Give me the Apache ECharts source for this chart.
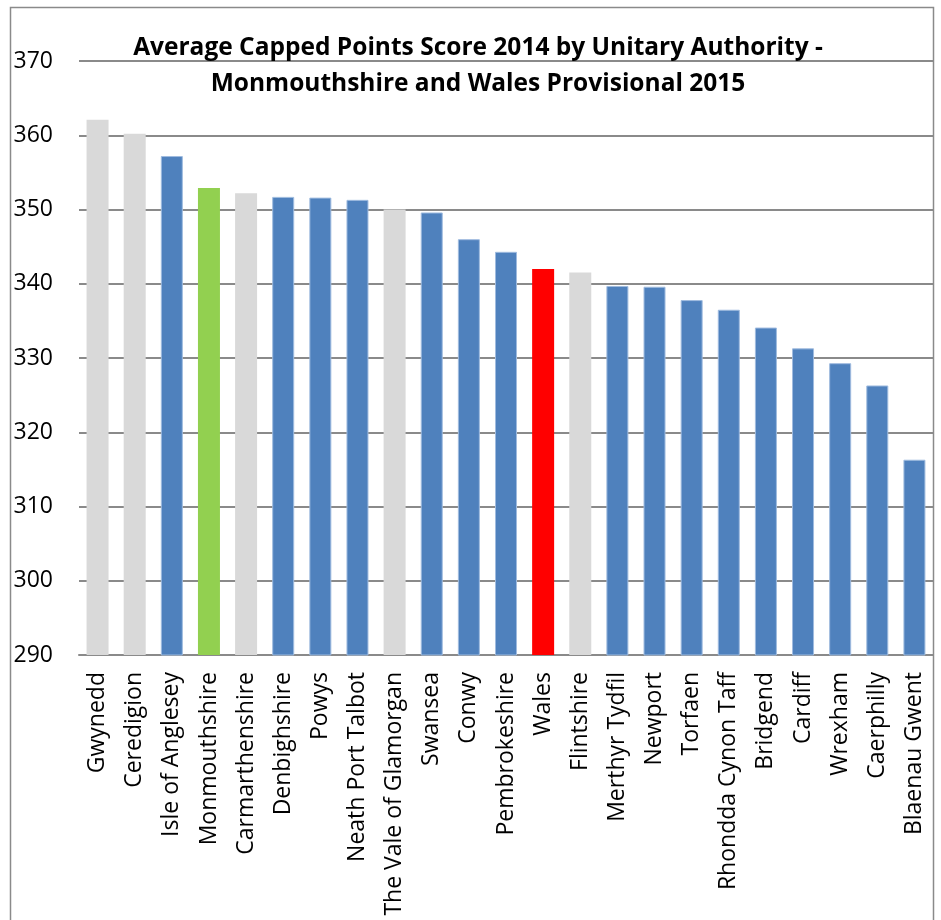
<!DOCTYPE html>
<html>
<head>
<meta charset="utf-8">
<script src="https://cdn.jsdelivr.net/npm/echarts@6/dist/echarts.min.js"></script>
<style>
html,body{margin:0;padding:0;background:#fff;}
#chart{width:941px;height:920px;}
</style>
</head>
<body>
<div id="chart"></div>
<script>
const titleText = 'Average Capped Points Score 2014 by Unitary Authority -\nMonmouthshire and Wales Provisional 2015';
const categories = ['Gwynedd','Ceredigion','Isle of Anglesey','Monmouthshire','Carmarthenshire','Denbighshire','Powys','Neath Port Talbot','The Vale of Glamorgan','Swansea','Conwy','Pembrokeshire','Wales','Flintshire','Merthyr Tydfil','Newport','Torfaen','Rhondda Cynon Taff','Bridgend','Cardiff','Wrexham','Caerphilly','Blaenau Gwent'];
const scores = [362.1,360.2,357.2,352.9,352.2,351.7,351.6,351.3,350.0,349.6,346.0,344.3,342.0,341.5,339.7,339.6,337.8,336.5,334.1,331.3,329.3,326.3,316.3];
const greyGroup = ['Gwynedd','Ceredigion','Carmarthenshire','The Vale of Glamorgan','Flintshire'];
const focusAuthority = 'Monmouthshire';
const nationalTotal = 'Wales';
const yTicks = [290,300,310,320,330,340,350,360,370];

const chart = echarts.init(document.getElementById('chart'), null, {renderer:'canvas'});
function barStyle(name){
  if (name === focusAuthority) return {color:'#92D050'};
  if (name === nationalTotal) return {color:'#FF0000'};
  if (greyGroup.indexOf(name) >= 0) return {color:'#D9D9D9'};
  return {color:'#4F81BD', borderColor:'#9FBBDF', borderWidth:1};
}
chart.setOption({
  animation:false,
  backgroundColor:'#ffffff',
  title:{
    text:titleText,
    left:473, top:25, textAlign:'center',
    textStyle:{fontFamily:'Open Sans', fontWeight:'bold', fontSize:24.5, lineHeight:36, color:'#000'}
  },
  graphic:[{
    type:'rect', silent:true, z:-1,
    shape:{x:10.5, y:7.5, width:923, height:940},
    style:{fill:'none', stroke:'#8a8a8a', lineWidth:1.5}
  }],
  grid:{left:79, right:8, top:61, bottom:265, containLabel:false},
  xAxis:{
    type:'category', data:categories,
    axisLine:{show:true, lineStyle:{color:'#8a8a8a', width:2}},
    axisTick:{show:false},
    axisLabel:{rotate:90, interval:0, margin:17, fontFamily:'Open Sans', fontSize:23, color:'#000'}
  },
  yAxis:{
    type:'value', min:yTicks[0], max:yTicks[yTicks.length-1], interval:10,
    axisLine:{show:false}, axisTick:{show:false},
    splitLine:{lineStyle:{color:'#8a8a8a', width:2}},
    axisLabel:{margin:26, fontFamily:'Open Sans', fontSize:23, color:'#000'}
  },
  series:[{
    type:'bar', barWidth:22,
    data:categories.map((c,i)=>({value:scores[i], itemStyle:barStyle(c)}))
  }]
});
</script>
</body>
</html>
